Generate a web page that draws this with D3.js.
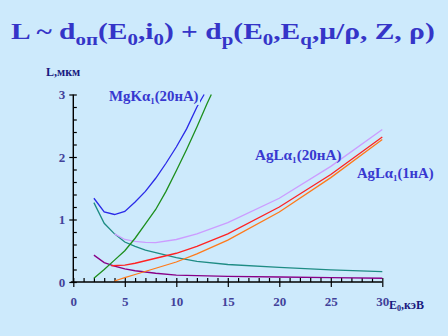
<!DOCTYPE html>
<html><head><meta charset="utf-8">
<script src="https://cdnjs.cloudflare.com/ajax/libs/d3/7.8.5/d3.min.js"></script>
<style>html,body{margin:0;padding:0;background:#cdeafc;}svg{display:block;}</style>
</head><body>
<svg id="c" width="448" height="336"></svg>
<script>
// ---- data ----
const xTicksMajor = [0, 5, 10, 15, 20, 25, 30];
const yTicksMajor = [0, 1, 2, 3];

const mgBlueE = [2, 3, 4, 5, 6, 7, 8, 9, 10, 11, 12, 12.7];
const mgBlueL = [1.34, 1.12, 1.08, 1.13, 1.28, 1.45, 1.66, 1.9, 2.16, 2.45, 2.8, 3.0];

const greenE = [2, 3, 4, 5, 6, 7, 8, 9, 10, 11, 12, 13, 13.4];
const greenL = [0.06, 0.2, 0.35, 0.5, 0.7, 0.93, 1.16, 1.45, 1.78, 2.12, 2.48, 2.86, 3.0];

const tealE = [2, 3, 4, 5, 6, 7, 8, 10, 12, 15, 20, 25, 30];
const tealL = [1.27, 0.94, 0.77, 0.64, 0.57, 0.51, 0.47, 0.39, 0.33, 0.28, 0.235, 0.195, 0.165];

const purpleE = [2, 3, 4, 5, 6, 8, 10, 15, 20, 25, 30];
const purpleL = [0.43, 0.31, 0.255, 0.21, 0.18, 0.14, 0.11, 0.09, 0.08, 0.07, 0.06];

const lavE = [4, 5, 6, 7, 8, 10, 12, 15, 20, 25, 30];
const lavL = [0.77, 0.68, 0.65, 0.635, 0.63, 0.68, 0.77, 0.95, 1.34, 1.85, 2.44];

const redE = [3.7, 5, 6, 8, 10, 12, 15, 20, 25, 30];
const redL = [0.26, 0.27, 0.3, 0.38, 0.46, 0.57, 0.77, 1.2, 1.72, 2.32];

const orangeE = [4, 5, 6, 8, 10, 12, 15, 20, 25, 30];
const orangeL = [0.016, 0.07, 0.12, 0.22, 0.32, 0.45, 0.67, 1.12, 1.67, 2.28];

// ---- chart ----
const svg = d3.select("#c");
const serif = "Liberation Serif, Times New Roman, serif";
svg.append("rect").attr("width", 448).attr("height", 336).attr("fill", "#cdeafc");

const x = d3.scaleLinear().domain([0, 30]).range([73.3, 382.3]);
const y = d3.scaleLinear().domain([0, 3]).range([282, 94.5]);

// fit a text horizontally between x0 and x0+w
function fitX(sel, x0, w) {
  const b = sel.node().getBBox();
  const s = w / b.width;
  sel.attr("transform", `translate(${x0},0) scale(${s},1) translate(${-b.x},0)`);
}

// title
const title = svg.append("text").attr("x", 0).attr("y", 39)
  .style("font-family", serif).style("font-weight", "bold").style("font-size", "24px")
  .attr("fill", "#3535c8");
const parts = [
  ["L ~ d", 0], ["оп", 1], ["(E", 0], ["0", 1], [",i", 0], ["0", 1], [") + d", 0], ["p", 1],
  ["(E", 0], ["0", 1], [",E", 0], ["q", 1], [",μ/ρ, Z, ρ)", 0]
];
parts.forEach(([t, sub]) => {
  const ts = title.append("tspan").text(t);
  if (sub) ts.style("font-size", "17px").attr("baseline-shift", "-6");
});
fitX(title, 11, 424);

// axes
const axG = svg.append("g");
axG.append("g").attr("transform", `translate(0,${y(0)})`)
  .call(d3.axisBottom(x).tickValues(d3.range(0, 31, 1)).tickSize(-4).tickSizeOuter(0).tickFormat(""));
axG.append("g").attr("transform", `translate(0,${y(0)})`)
  .call(d3.axisBottom(x).tickValues(xTicksMajor).tickSize(5).tickSizeOuter(0).tickFormat(""));
axG.append("g").attr("transform", `translate(0,${y(0)})`)
  .call(d3.axisBottom(x).tickValues(xTicksMajor).tickSize(0).tickPadding(15).tickFormat(d3.format("d")));
axG.append("g").attr("transform", `translate(${x(0)},0)`)
  .call(d3.axisLeft(y).tickValues(d3.range(0, 3.01, 0.2)).tickSize(-3.5).tickSizeOuter(0).tickFormat(""));
axG.append("g").attr("transform", `translate(${x(0)},0)`)
  .call(d3.axisLeft(y).tickValues(yTicksMajor).tickSize(4).tickSizeOuter(0).tickFormat(""));
axG.append("g").attr("transform", `translate(${x(0)},0)`)
  .call(d3.axisLeft(y).tickValues(yTicksMajor).tickSize(0).tickPadding(8).tickFormat(d3.format("d")));

axG.selectAll(".domain").remove();
axG.selectAll(".tick line").attr("stroke", "#000").attr("stroke-width", 1.2);
axG.selectAll("g").attr("font-family", null).attr("font-size", null);
axG.selectAll(".tick text").style("font-family", serif).style("font-weight", "bold")
  .style("font-size", "13px").attr("fill", "#42429a");
axG.append("line").attr("x1", x(0) - 2.5).attr("x2", x(30)).attr("y1", y(0)).attr("y2", y(0))
  .attr("stroke", "#000").attr("stroke-width", 1.4);
axG.append("line").attr("x1", x(0)).attr("x2", x(0)).attr("y1", y(0)).attr("y2", y(3))
  .attr("stroke", "#000").attr("stroke-width", 1.4);

// series
const line = d3.line().x(d => x(d[0])).y(d => y(d[1]));
const series = [
  [tealE, tealL, "#1e8c84"],
  [purpleE, purpleL, "#880088"],
  [lavE, lavL, "#cc9cff"],
  [orangeE, orangeL, "#ff7a1a"],
  [redE, redL, "#ff2222"],
  [greenE, greenL, "#1d8f1d"],
  [mgBlueE, mgBlueL, "#2a2ae8"]
];
series.forEach(([E, L, c]) => {
  svg.append("path").datum(d3.zip(E, L)).attr("d", line)
    .attr("fill", "none").attr("stroke", c).attr("stroke-width", 1.3);
});

// series labels
function label(xp, yp, w, main, sub, rest, size, color, bg) {
  const t = svg.append("text").attr("x", 0).attr("y", yp)
    .style("font-family", serif).style("font-weight", "bold").style("font-size", size + "px").attr("fill", color);
  t.append("tspan").text(main);
  t.append("tspan").text(sub).style("font-size", (size * 0.6) + "px").attr("baseline-shift", "-3");
  t.append("tspan").text(rest);
  fitX(t, xp, w);
  if (bg) {
    const b = t.node().getBBox();
    svg.insert("rect", () => t.node()).attr("x", xp).attr("y", b.y + 2).attr("width", w + 1)
      .attr("height", b.height - 3).attr("fill", "#cdeafc");
  }
  return t;
}
label(109, 101, 90, "MgKα", "1", "(20нА)", 14, "#3838d0", true);
label(255, 160, 87, "AgLα", "1", "(20нА)", 14, "#3838d0", false);
label(357, 178, 77, "AgLα", "1", "(1нА)", 14, "#3838d0", false);

// axis titles
svg.append("text").attr("x", 46).attr("y", 76)
  .style("font-family", serif).style("font-weight", "bold").style("font-size", "12px").attr("fill", "#1a1a80")
  .text("L,мкм");
const xT = svg.append("text").attr("x", 389).attr("y", 309)
  .style("font-family", serif).style("font-weight", "bold").style("font-size", "12px").attr("fill", "#1a1a80");
xT.append("tspan").text("E");
xT.append("tspan").text("0").style("font-size", "8px").attr("baseline-shift", "-2");
xT.append("tspan").text(",кэВ");
</script>
</body></html>
